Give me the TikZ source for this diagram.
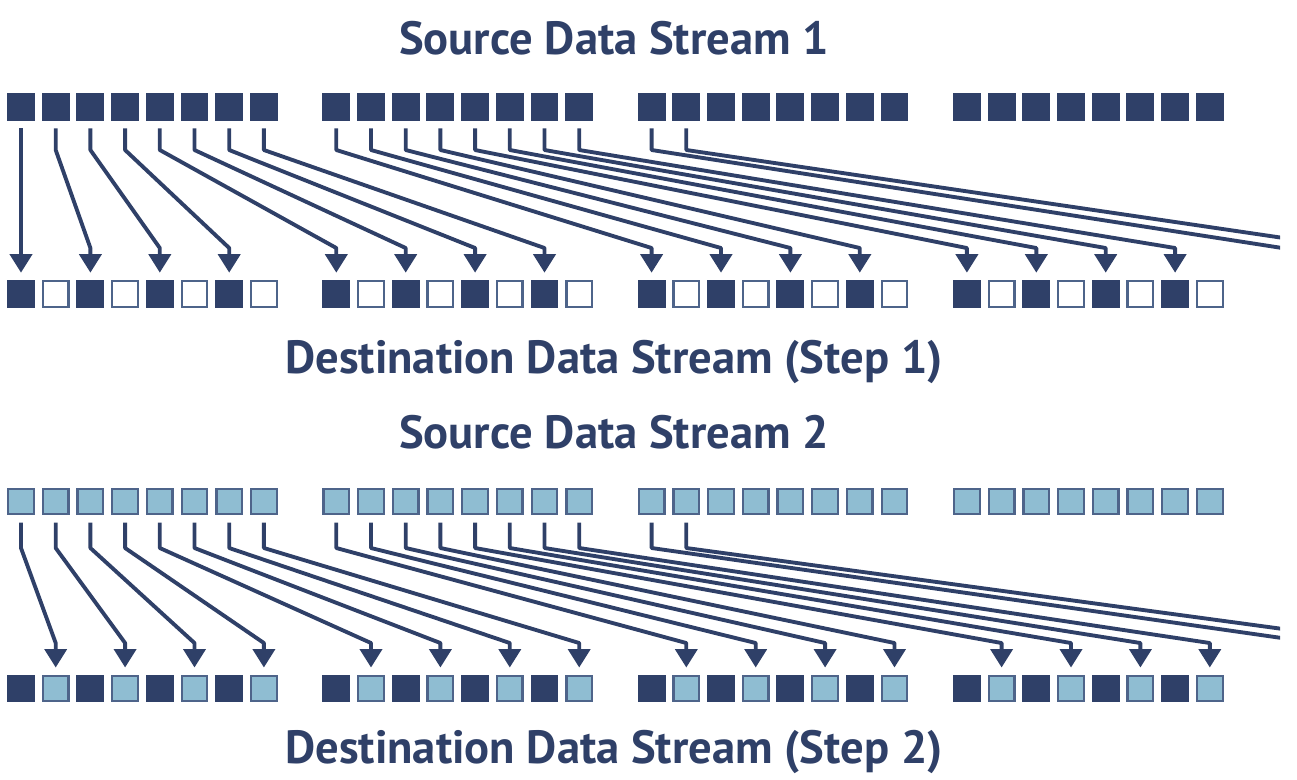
\documentclass[tikz,border=0pt]{standalone}
\usepackage{fontspec}
\setmainfont{PT Sans}
\usetikzlibrary{arrows.meta}
\definecolor{navy}{RGB}{47,64,104}
\definecolor{sky}{RGB}{143,189,210}
\definecolor{rim}{RGB}{78,100,138}
\tikzset{
  cell/.style={rectangle, inner sep=0pt, minimum size=15.9pt},
  dark/.style={cell, fill=navy},
  light/.style={cell, minimum size=14.6pt, fill=sky, draw=rim, line width=1.3pt},
  blank/.style={cell, minimum size=14.6pt, fill=white, draw=rim, line width=1.3pt},
  link/.style={draw=navy, line width=2.2pt, line join=round, shorten <=4pt},
  flow/.style={link, -{Triangle[width=12.5pt,length=10.5pt]}, shorten >=4pt},
  caption/.style={text=navy, anchor=base, font=\fontsize{26.5}{31}\selectfont\bfseries},
}
\begin{document}
\begin{tikzpicture}[x=0.02cm, y=-0.02cm]
\useasboundingbox (0,0) rectangle (1297,779);
% captions
\node[caption] (src1) at (614,54) {Source Data Stream 1};
\node[caption] (dst1) at (614,373) {Destination Data Stream (Step 1)};
\node[caption] (src2) at (614,448) {Source Data Stream 2};
\node[caption] (dst2) at (614,763) {Destination Data Stream (Step 2)};
% cells
\foreach \i in {0,...,31}{
  \pgfmathsetmacro\cx{21+315.3*floor(\i/8)+34.7*mod(\i,8)}
  \node[dark] (s1-\i) at (\cx,107) {};
  \node[light] (s2-\i) at (\cx,501.5) {};
  \ifodd\i
    \node[blank] (d1-\i) at (\cx,294) {};
    \node[light] (d2-\i) at (\cx,688.5) {};
  \else
    \node[dark] (d1-\i) at (\cx,294) {};
    \node[dark] (d2-\i) at (\cx,688.5) {};
  \fi
}
% places past the right edge
\foreach \i in {32,...,35}{
  \pgfmathsetmacro\cx{21+315.3*floor(\i/8)+34.7*mod(\i,8)}
  \coordinate (d1-\i) at (\cx,294);
  \coordinate (d2-\i) at (\cx,688.5);
}
\coordinate (bend1) at (0,150);
\coordinate (knee1) at (0,248);
\coordinate (bend2) at (0,548);
\coordinate (knee2) at (0,643);
% connectors
\begin{scope}
\clip (0,0) rectangle (1280,779);
\foreach \k in {0,...,17}{
  \pgfmathtruncatemacro\ja{2*\k}
  \pgfmathtruncatemacro\jb{2*\k+1}
  \ifnum\k<16
    \draw[flow] (s1-\k.south) -- (s1-\k.south |- bend1) -- (d1-\ja.north |- knee1) -- (d1-\ja.north);
    \draw[flow] (s2-\k.south) -- (s2-\k.south |- bend2) -- (d2-\jb.north |- knee2) -- (d2-\jb.north);
  \else
    \draw[link] (s1-\k.south) -- (s1-\k.south |- bend1) -- (d1-\ja |- knee1);
    \draw[link] (s2-\k.south) -- (s2-\k.south |- bend2) -- (d2-\jb |- knee2);
  \fi
}
\end{scope}
\end{tikzpicture}
\end{document}
